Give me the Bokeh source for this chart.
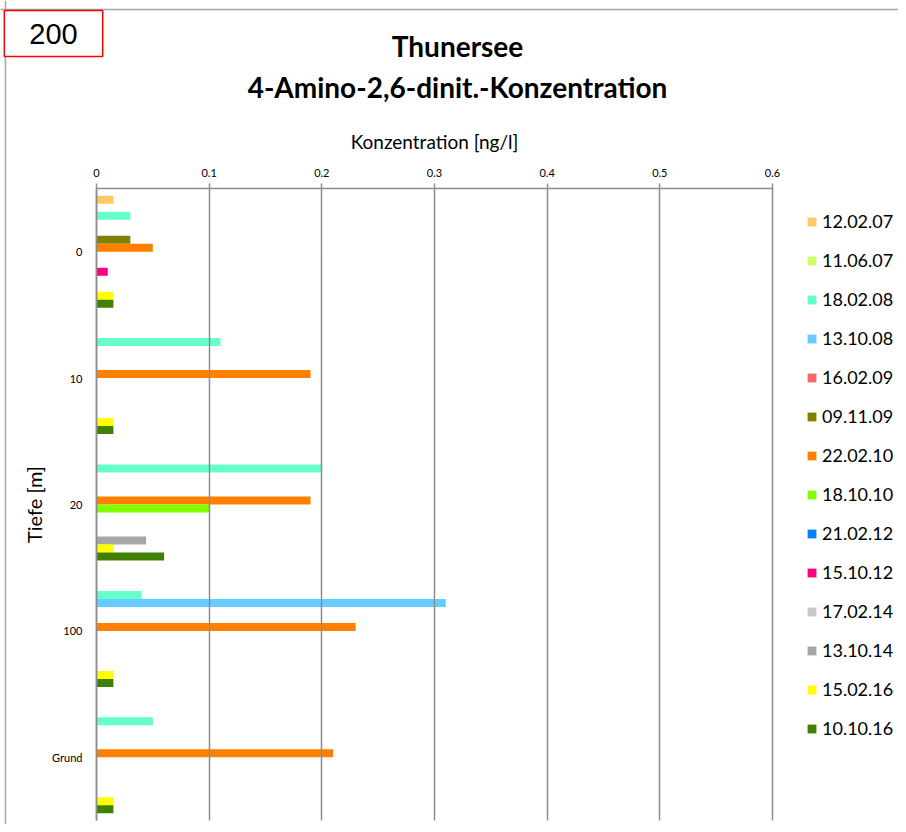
import math
from bokeh.plotting import figure
from bokeh.models import Range1d, FixedTicker, Legend, LegendItem, Label, ColumnDataSource, Span
from bokeh.embed import file_html
from bokeh.resources import INLINE

# ---------------- data ----------------
depths = ["0", "10", "20", "100", "Grund"]
x_ticks = [0, 0.1, 0.2, 0.3, 0.4, 0.5, 0.6]
x_tick_labels = ["0", "0.1", "0.2", "0.3", "0.4", "0.5", "0.6"]

series = ["12.02.07", "11.06.07", "18.02.08", "13.10.08", "16.02.09", "09.11.09",
          "22.02.10", "18.10.10", "21.02.12", "15.10.12", "17.02.14", "13.10.14",
          "15.02.16", "10.10.16"]
colors = ["#FFC966", "#CCFF66", "#66FFCC", "#66CCFF", "#FF6666", "#808000",
          "#FF8000", "#80FF00", "#0080FF", "#FF0080", "#C8C8C8", "#A6A6A6",
          "#FFFF00", "#408000"]

# values per depth (0, 10, 20, 100, Grund); None = no measurement
v_12_02_07 = [0.015, None, None, None, None]
v_11_06_07 = [None, None, None, None, None]
v_18_02_08 = [0.03, 0.11, 0.2, 0.04, 0.05]
v_13_10_08 = [None, None, None, 0.31, None]
v_16_02_09 = [None, None, None, None, None]
v_09_11_09 = [0.03, None, None, None, None]
v_22_02_10 = [0.05, 0.19, 0.19, 0.23, 0.21]
v_18_10_10 = [None, None, 0.1, None, None]
v_21_02_12 = [None, None, None, None, None]
v_15_10_12 = [0.01, None, None, None, None]
v_17_02_14 = [None, None, None, None, None]
v_13_10_14 = [None, None, 0.044, None, None]
v_15_02_16 = [0.015, 0.015, 0.015, 0.015, 0.015]
v_10_10_16 = [0.015, 0.015, 0.06, 0.015, 0.015]

all_values = [v_12_02_07, v_11_06_07, v_18_02_08, v_13_10_08, v_16_02_09, v_09_11_09,
              v_22_02_10, v_18_10_10, v_21_02_12, v_15_10_12, v_17_02_14, v_13_10_14,
              v_15_02_16, v_10_10_16]

FONT = "Lato"
GRID = "#8c8c8c"

# ---------------- geometry (pixels) ----------------
W, H = 898, 824
X0_PX, X06_PX = 96, 772          # canvas x of 0 and 0.6
AXIS_Y_PX = 188                  # canvas y of the top axis
CAT_PX = 126.4                   # pixels per depth category
PX_X = (X06_PX - X0_PX) / 0.6
x_start = -X0_PX / PX_X
x_end = (W - X0_PX) / PX_X
y_top = -AXIS_Y_PX / CAT_PX
y_bottom = (H - AXIS_Y_PX) / CAT_PX
PLOT_H_PX = len(depths) * CAT_PX

p = figure(width=W, height=H, output_backend="svg", toolbar_location=None,
           x_axis_location="above", tools="",
           x_range=Range1d(x_start, x_end), y_range=Range1d(y_bottom, y_top),
           min_border=0, min_border_left=0, min_border_right=0,
           min_border_top=0, min_border_bottom=0)
p.outline_line_color = None
p.background_fill_color = "white"
p.border_fill_color = "white"
p.xgrid.visible = False
p.ygrid.visible = False

# grouped horizontal bars
n = len(series)
group_frac = 0.886
slot = group_frac / n
renderers = []
for j, (name, col, vals) in enumerate(zip(series, colors, all_values)):
    ys, rs = [], []
    for i, v in enumerate(vals):
        if v is not None:
            ys.append(i + 0.5 + (j - (n - 1) / 2) * slot)
            rs.append(v)
    if not ys:  # series without measurements: keep a legend entry only
        ys, rs = [math.nan], [math.nan]
    src = ColumnDataSource(dict(y=ys, right=rs))
    r = p.hbar(y="y", right="right", left=0, height=slot, source=src,
               fill_color=col, line_color=None)
    renderers.append(r)

# x axis (top), fixed at y=0; long inward ticks act as vertical gridlines
xa = p.xaxis[0]
xa.fixed_location = 0
xa.bounds = (0, 0.6)
xa.ticker = FixedTicker(ticks=x_ticks)
xa.major_label_overrides = {t: l for t, l in zip(x_ticks, x_tick_labels)}
xa.axis_label = "Konzentration [ng/l]"
xa.axis_label_text_font = FONT
xa.axis_label_text_font_style = "normal"
xa.axis_label_text_font_size = "19px"
xa.axis_label_text_color = "#000000"
xa.axis_label_standoff = 13
xa.major_label_text_font = FONT
xa.major_label_text_font_size = "11px"
xa.major_label_text_color = "#000000"
xa.major_label_standoff = 7
xa.axis_line_color = GRID
xa.axis_line_width = 1.5
xa.major_tick_line_color = GRID
xa.major_tick_line_width = 1.5
xa.major_tick_out = 5
xa.major_tick_in = int(PLOT_H_PX)
xa.minor_tick_line_color = None

# y axis (left), fixed at x=0
ya = p.yaxis[0]
ya.fixed_location = 0
ya.bounds = (0, len(depths))
ya.ticker = FixedTicker(ticks=[i + 0.5 for i in range(len(depths))])
ya.major_label_overrides = {i + 0.5: d for i, d in enumerate(depths)}
ya.axis_label = "Tiefe [m]"
ya.axis_label_text_font = FONT
ya.axis_label_text_font_style = "normal"
ya.axis_label_text_font_size = "20px"
ya.axis_label_text_color = "#000000"
ya.axis_label_standoff = 3
ya.major_label_text_font = FONT
ya.major_label_text_font_size = "11px"
ya.major_label_text_color = "#000000"
ya.major_label_standoff = 8
ya.axis_line_color = GRID
ya.axis_line_width = 1.5
ya.major_tick_line_color = None
ya.minor_tick_line_color = None

# outer chart border (top and left)
p.add_layout(Span(location=y_top + 9 / CAT_PX, dimension="width",
                  line_color="#a6a6a6", line_width=1.5))
p.add_layout(Span(location=x_start + 5 / PX_X, dimension="height",
                  line_color="#a6a6a6", line_width=1.5))

# legend
items = [LegendItem(label=s, renderers=[r]) for s, r in zip(series, renderers)]
legend = Legend(items=items, location=(806, H - 739), orientation="vertical",
                glyph_width=11, glyph_height=11, label_height=20, spacing=17,
                label_standoff=5, padding=0, margin=0,
                label_text_font=FONT, label_text_font_size="18px",
                label_text_color="#000000",
                background_fill_alpha=0, border_line_color=None)
p.add_layout(legend, "center")

# titles
p.add_layout(Label(x=457, y=H - 45, x_units="screen", y_units="screen", text="Thunersee",
                   text_align="center", text_baseline="middle", text_font=FONT,
                   text_font_style="bold", text_font_size="28px", text_color="#000000"))
p.add_layout(Label(x=457, y=H - 86, x_units="screen", y_units="screen",
                   text="4-Amino-2,6-dinit.-Konzentration",
                   text_align="center", text_baseline="middle", text_font=FONT,
                   text_font_style="bold", text_font_size="28px", text_color="#000000"))

# red box with "200"
p.add_layout(Label(x=53, y=H - 33, x_units="screen", y_units="screen", text="200",
                   text_align="center", text_baseline="middle",
                   text_font="Liberation Sans", text_font_size="29px", text_color="#000000",
                   border_line_color="#ff0000", border_line_width=1.5,
                   background_fill_color="white", padding=(25, 25, 13, 13)))

open("out.html", "w").write(file_html(p, INLINE))
